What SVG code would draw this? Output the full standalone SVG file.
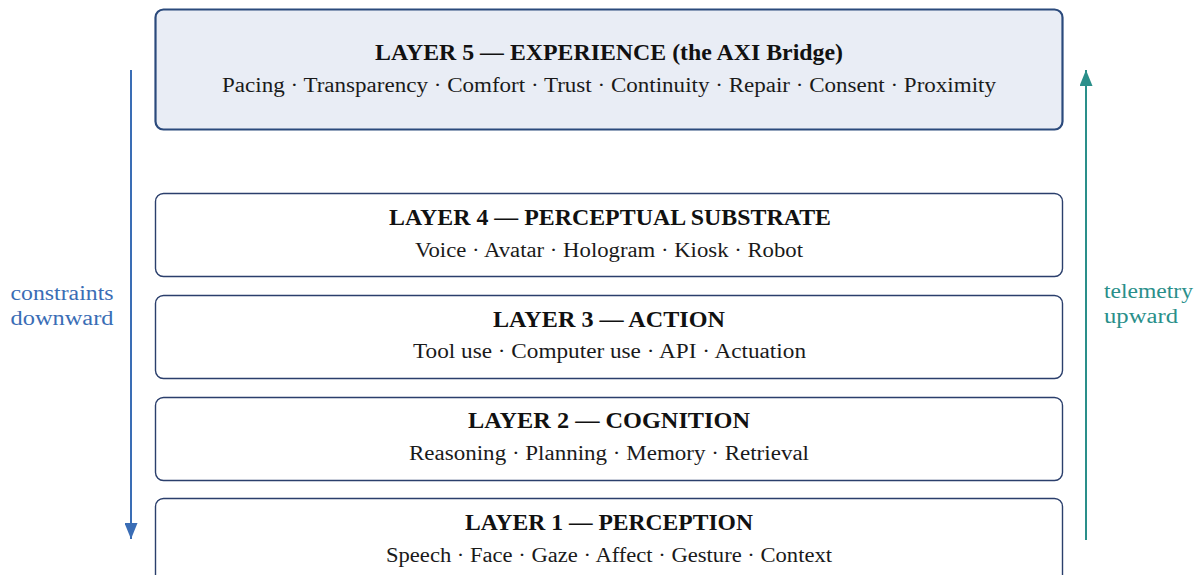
<svg xmlns="http://www.w3.org/2000/svg" width="1200" height="575" viewBox="0 0 1200 575">
<defs>
<style>
.box{fill:#ffffff;stroke:#2b3f6c;stroke-width:1.4}
.box5{fill:#e9edf5;stroke:#2b4a7c;stroke-width:2.2}
.t{font-family:"Liberation Serif","DejaVu Serif",serif;font-weight:bold;font-size:23px;fill:#111111;text-anchor:middle}
.s{font-family:"Liberation Serif","DejaVu Serif",serif;font-size:20.5px;fill:#1a1a1a;text-anchor:middle}
.lb{font-family:"Liberation Serif","DejaVu Serif",serif;font-size:20.5px;fill:#3a6db5}
.lt{font-family:"Liberation Serif","DejaVu Serif",serif;font-size:20.5px;fill:#2a8f8a}
</style>
<marker id="ab" viewBox="0 0 16 13" refX="16" refY="6.5" markerWidth="16" markerHeight="13" markerUnits="userSpaceOnUse" orient="auto"><path d="M0,0 L16,6.5 L0,13 z" fill="#3a6db5"/></marker>
<marker id="at" viewBox="0 0 16 13" refX="16" refY="6.5" markerWidth="16" markerHeight="13" markerUnits="userSpaceOnUse" orient="auto"><path d="M0,0 L16,6.5 L0,13 z" fill="#2a8f8a"/></marker>
</defs>
<rect width="1200" height="575" fill="#ffffff"/>
<g id="connectors">
<line x1="131" y1="70" x2="131" y2="539" stroke="#3a6db5" stroke-width="2" marker-end="url(#ab)"/>
<line x1="1086" y1="540" x2="1086" y2="70" stroke="#2a8f8a" stroke-width="2" marker-end="url(#at)"/>
<text class="lb" x="62" y="300" text-anchor="middle" textLength="103" lengthAdjust="spacingAndGlyphs">constraints</text>
<text class="lb" x="62" y="325" text-anchor="middle" textLength="103" lengthAdjust="spacingAndGlyphs">downward</text>
<text class="lt" x="1104" y="298" textLength="89" lengthAdjust="spacingAndGlyphs">telemetry</text>
<text class="lt" x="1104" y="323" textLength="74" lengthAdjust="spacingAndGlyphs">upward</text>
</g>
<g id="layer5">
<rect class="box5" x="155.5" y="9.5" width="907" height="120" rx="8"/>
<text class="t" x="609" y="60" textLength="468" lengthAdjust="spacingAndGlyphs">LAYER 5 — EXPERIENCE (the AXI Bridge)</text>
<text class="s" x="609" y="92" textLength="774" lengthAdjust="spacingAndGlyphs">Pacing · Transparency · Comfort · Trust · Continuity · Repair · Consent · Proximity</text>
</g>
<g id="layer4">
<rect class="box" x="155.5" y="193.5" width="907" height="83" rx="8"/>
<text class="t" x="610" y="225" textLength="442" lengthAdjust="spacingAndGlyphs">LAYER 4 — PERCEPTUAL SUBSTRATE</text>
<text class="s" x="609" y="257" textLength="388" lengthAdjust="spacingAndGlyphs">Voice · Avatar · Hologram · Kiosk · Robot</text>
</g>
<g id="layer3">
<rect class="box" x="155.5" y="295.5" width="907" height="83" rx="8"/>
<text class="t" x="609" y="327" textLength="232" lengthAdjust="spacingAndGlyphs">LAYER 3 — ACTION</text>
<text class="s" x="609.5" y="358" textLength="393" lengthAdjust="spacingAndGlyphs">Tool use · Computer use · API · Actuation</text>
</g>
<g id="layer2">
<rect class="box" x="155.5" y="397.5" width="907" height="83" rx="8"/>
<text class="t" x="609" y="428" textLength="282" lengthAdjust="spacingAndGlyphs">LAYER 2 — COGNITION</text>
<text class="s" x="609" y="460" textLength="400" lengthAdjust="spacingAndGlyphs">Reasoning · Planning · Memory · Retrieval</text>
</g>
<g id="layer1">
<rect class="box" x="155.5" y="498.5" width="907" height="100" rx="8"/>
<text class="t" x="609" y="530" textLength="288" lengthAdjust="spacingAndGlyphs">LAYER 1 — PERCEPTION</text>
<text class="s" x="609" y="562" textLength="446" lengthAdjust="spacingAndGlyphs">Speech · Face · Gaze · Affect · Gesture · Context</text>
</g>
</svg>
